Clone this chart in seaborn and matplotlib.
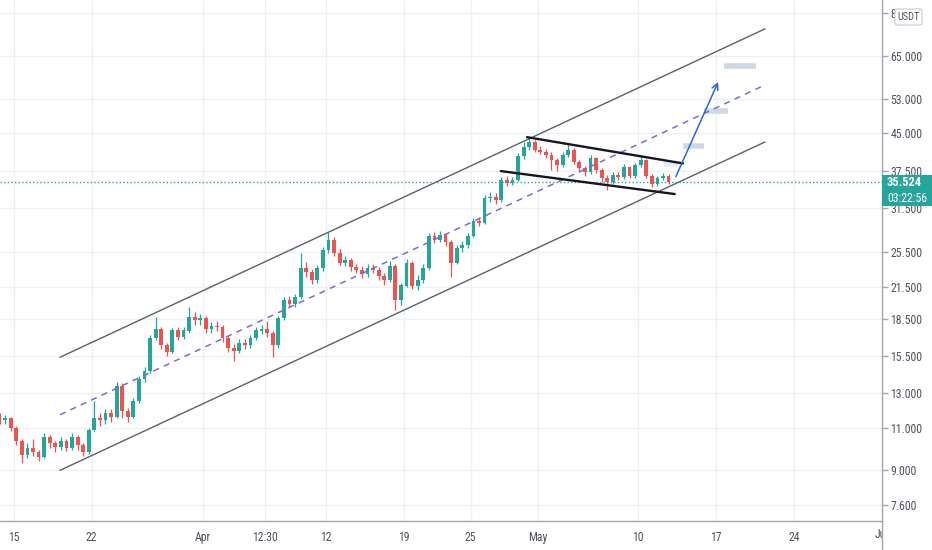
import numpy as np
import pandas as pd
import matplotlib
matplotlib.use("Agg")
import matplotlib.pyplot as plt
import seaborn as sns
from matplotlib import font_manager
from matplotlib.patches import Rectangle, FancyBboxPatch
from matplotlib.lines import Line2D
from matplotlib.ticker import FixedLocator, NullLocator
from matplotlib.transforms import blended_transform_factory

# ---------------- data ----------------
base_day = pd.Timestamp("2021-03-15")
candle_start = "2021-03-13 18:00"
first_open = 11.6

closes = [11.4, 11.5, 11.0, 10.3, 9.63, 10.0, 9.77, 9.58, 10.5, 10.2,
          10.05, 10.3, 10.0, 10.5, 10.1, 9.8, 10.9, 11.5, 11.4, 11.8,
          11.6, 13.4, 11.9, 11.6, 12.5, 13.9, 14.4, 16.9, 17.6, 16.3,
          15.8, 17.5, 17.0, 17.5, 18.7, 18.4, 18.6, 17.6, 17.9, 17.8,
          16.9, 16.1, 15.9, 16.5, 16.3, 16.9, 17.5, 17.6, 17.3, 16.3,
          18.6, 20.2, 19.9, 20.5, 23.6, 23.1, 22.3, 23.6, 25.7, 27.0,
          25.4, 24.2, 24.5, 23.7, 23.4, 22.9, 23.6, 23.4, 22.7, 22.3,
          23.8, 20.2, 21.7, 24.2, 21.7, 22.3, 23.6, 27.5, 27.0, 27.6,
          26.7, 24.2, 25.9, 26.3, 27.5, 29.6, 29.3, 32.9, 33.2, 32.6,
          35.9, 35.4, 35.9, 40.3, 42.0, 43.0, 41.5, 41.1, 40.5, 39.5,
          38.6, 40.5, 41.5, 39.1, 38.0, 37.3, 39.9, 37.7, 36.3, 35.6,
          36.8, 36.4, 38.2, 36.6, 38.6, 39.5, 36.6, 35.2, 36.3, 36.6,
          35.524]

highs = [11.8, 11.7, 11.6, 11.1, 10.4, 10.2, 10.4, 9.9, 10.7, 10.6,
         10.3, 10.5, 10.4, 10.7, 10.6, 10.2, 11.0, 12.5, 11.8, 12.0,
         12.0, 13.7, 13.6, 12.1, 12.7, 14.1, 14.7, 17.1, 18.7, 17.8,
         16.5, 17.7, 17.8, 17.8, 19.6, 19.1, 18.9, 18.8, 18.2, 18.3,
         18.0, 17.1, 16.4, 16.8, 16.8, 17.1, 17.8, 18.0, 18.3, 17.5,
         18.8, 20.5, 20.6, 20.8, 25.4, 24.3, 23.5, 23.9, 26.1, 28.0,
         27.3, 25.8, 25.0, 24.8, 24.1, 23.8, 24.1, 24.0, 23.7, 23.0,
         24.4, 24.0, 22.0, 24.6, 24.4, 22.8, 24.0, 27.9, 28.0, 28.2,
         27.8, 27.0, 26.3, 26.9, 27.9, 30.0, 30.1, 33.5, 33.9, 33.7,
         36.5, 36.6, 36.5, 40.9, 43.0, 44.1, 43.5, 42.2, 41.6, 41.0,
         40.0, 41.0, 42.7, 41.8, 39.5, 38.4, 40.4, 40.1, 38.0, 36.8,
         37.3, 37.3, 38.7, 38.5, 39.0, 40.5, 39.8, 36.9, 36.7, 37.1,
         36.9]

lows = [11.2, 11.2, 10.8, 10.1, 9.3, 9.5, 9.6, 9.4, 9.5, 10.0,
        9.8, 9.9, 9.85, 9.9, 9.9, 9.6, 9.7, 10.8, 11.1, 11.2,
        11.3, 11.5, 11.5, 11.3, 11.5, 12.4, 13.7, 14.3, 16.7, 16.0,
        15.5, 15.7, 16.7, 16.8, 17.3, 18.0, 18.0, 17.3, 17.3, 17.5,
        16.6, 15.8, 15.1, 15.7, 16.0, 16.1, 16.7, 17.2, 17.0, 15.4,
        16.1, 18.4, 19.6, 19.6, 20.3, 22.6, 21.9, 22.0, 23.3, 25.4,
        25.0, 23.9, 23.8, 23.3, 23.0, 22.5, 22.6, 23.0, 22.3, 21.8,
        22.1, 19.3, 19.8, 21.5, 21.3, 21.2, 22.0, 23.4, 26.6, 26.7,
        26.2, 22.6, 24.0, 25.5, 26.0, 27.3, 28.9, 29.1, 32.3, 32.1,
        32.4, 34.9, 35.0, 35.7, 39.8, 41.4, 41.0, 40.6, 40.0, 37.7,
        37.6, 38.2, 40.1, 38.7, 37.4, 36.6, 37.0, 37.2, 35.6, 34.2,
        35.3, 35.9, 36.1, 36.2, 36.3, 38.2, 36.2, 34.7, 34.9, 35.9,
        35.2]

last_price = 35.524
last_price_text = "35.524"
countdown_text = "03:22:56"
currency = "USDT"

# channel (day offset from Mar 15, price)
channel_x = [4.17, 67.4]
channel_upper = [15.4, 74.0]
channel_mid = [11.7, 56.6]
channel_lower = [8.97, 43.1]

# flag
flag_upper_x = [46.05, 60.04]
flag_upper_y = [44.1, 38.9]
flag_lower_x = [43.7, 59.3]
flag_lower_y = [37.5, 33.6]

# projected arrow
arrow_from = (59.4, 36.5)
arrow_to = (63.2, 57.4)

# target markers: (start day, end day, price)
target_x0 = [58.3, 60.0, 61.9, 63.7]
target_x1 = [59.5, 61.9, 64.1, 66.6]
target_y = [38.8, 42.2, 50.0, 62.0]
target_col = ["#e3ebf2", "#cdd9e5", "#cdd9e5", "#cdd9e5"]

price_ticks = [7.6, 9.0, 11.0, 13.0, 15.5, 18.5, 21.5, 25.5, 31.5, 37.5, 45.0, 53.0, 65.0, 80.0]
price_labels = ["7.600", "9.000", "11.000", "13.000", "15.500", "18.500", "21.500",
                "25.500", "31.500", "37.500", "45.000", "53.000", "65.000", "80.000"]

date_ticks = ["2021-03-15", "2021-03-22", "2021-04-01", "2021-04-06 12:30", "2021-04-12",
              "2021-04-19", "2021-04-25", "2021-05-01", "2021-05-10", "2021-05-17",
              "2021-05-24"]
date_labels = ["15", "22", "Apr", "12:30", "12", "19", "25", "May", "10", "17", "24"]
edge_tick = "2021-06-01"
edge_label = "Jun"

# ---------------- styling ----------------
sns.set_style("white")
available = {f.name for f in font_manager.fontManager.ttflist}
narrow = [f for f in ["Liberation Sans Narrow", "Roboto Condensed", "DejaVu Sans Condensed"]
          if f in available]
fam = (narrow[:1] if narrow else []) + ["DejaVu Sans"]
plt.rcParams['font.family'] = fam
lab_fs = 8.5 if narrow else 7.2

UP = "#26a69a"
DOWN = "#ef5350"
AXIS = "#a3a6af"
TXT = "#50535e"
GRID = "#eef0f4"

W, H = 932, 550
fig = plt.figure(figsize=(W / 100, H / 100), dpi=100)
fig.patch.set_facecolor("white")
ax = fig.add_axes([0, 29 / H, 882 / W, 521 / H])

dates = pd.date_range(candle_start, periods=len(closes), freq="12h")
xd = np.asarray((dates - base_day) / pd.Timedelta(days=1), dtype=float)
c = np.array(closes)
o = np.array([first_open] + closes[:-1])
hi = np.array(highs)
lo = np.array(lows)
up = c >= o
cols = np.where(up, UP, DOWN)

ax.set_yscale("log")
ax.set_xlim(-13.5 / 11.15, (882 - 13.5) / 11.15)
ax.set_ylim(7.04, 84.95)

# ticks + grid
tick_days = [(pd.Timestamp(d) - base_day) / pd.Timedelta(days=1) for d in date_ticks]
ax.xaxis.set_major_locator(FixedLocator(tick_days))
ax.set_xticklabels(date_labels)
ax.yaxis.set_major_locator(FixedLocator(price_ticks))
ax.yaxis.set_minor_locator(NullLocator())
ax.set_yticklabels(price_labels)
ax.grid(True, color=GRID, lw=1, zorder=0)
ax.set_axisbelow(True)

# candles
ax.vlines(xd, lo, hi, colors=cols, lw=0.9, zorder=2)
ax.bar(xd, np.abs(c - o) + 0.0001 * c, bottom=np.minimum(o, c), width=0.34,
       color=cols, linewidth=0, zorder=3)

# channel lines
sns.lineplot(x=channel_x, y=channel_upper, ax=ax, color="#5d606b", lw=1.0, zorder=4)
sns.lineplot(x=channel_x, y=channel_lower, ax=ax, color="#5d606b", lw=1.0, zorder=4)
ax.plot(channel_x, channel_mid, color="#7e6bd0", lw=1.1, ls=(0, (4, 3.5)), zorder=4)

# flag
sns.lineplot(x=flag_upper_x, y=flag_upper_y, ax=ax, color="#131722", lw=1.7, zorder=5)
sns.lineplot(x=flag_lower_x, y=flag_lower_y, ax=ax, color="#131722", lw=1.7, zorder=5)

# target markers
for x0, x1, yv, cc in zip(target_x0, target_x1, target_y, target_col):
    ax.hlines(yv, x0, x1, colors=cc, lw=4, zorder=3)

# arrow
ax.annotate("", xy=arrow_to, xytext=arrow_from,
            arrowprops=dict(arrowstyle="->", color="#2f64d6", lw=1.1,
                            mutation_scale=11, shrinkA=0, shrinkB=0), zorder=6)

# last price dotted line
ax.axhline(last_price, color=UP, lw=1, ls=(0, (1, 1.6)), zorder=4)

# axes styling
for s in ["left", "top"]:
    ax.spines[s].set_visible(False)
for s in ["right", "bottom"]:
    ax.spines[s].set_color(AXIS)
    ax.spines[s].set_linewidth(1)
ax.yaxis.tick_right()
ax.tick_params(axis="y", which="major", direction="out", length=4, width=1,
               color=AXIS, labelsize=lab_fs, labelcolor=TXT, pad=2)
ax.tick_params(axis="x", which="major", direction="out", length=4, width=1,
               color=AXIS, labelsize=lab_fs, labelcolor=TXT, pad=3)
ax.set_xlabel("")
ax.set_ylabel("")
if ax.get_legend():
    ax.get_legend().remove()

# month label at the right edge, partly hidden by the price scale
jun_day = (pd.Timestamp(edge_tick) - base_day) / pd.Timedelta(days=1)
trans = blended_transform_factory(ax.transData, ax.transAxes)
ax.text(jun_day, -7.5 / 521, edge_label, transform=trans, ha="center", va="top",
        fontsize=lab_fs, color=TXT, clip_on=False)
fig.add_artist(Rectangle((883 / W, 0), 49 / W, 28.5 / H, transform=fig.transFigure,
                         facecolor="white", edgecolor="none", zorder=5))
fig.add_artist(Line2D([882 / W, 882 / W], [0, 29 / H], transform=fig.transFigure,
                      color=AXIS, lw=1, zorder=6))

# last price label
fig.add_artist(Rectangle((882 / W, 1 - 206 / H), 50 / W, 31 / H, transform=fig.transFigure,
                         facecolor=UP, edgecolor="none", zorder=10))
fig.text(887 / W, 1 - 183 / H, last_price_text, color="white", fontsize=lab_fs + 0.5,
         fontweight="bold", ha="left", va="center", zorder=11)
fig.text(887 / W, 1 - 198 / H, countdown_text, color="white", fontsize=lab_fs,
         ha="left", va="center", zorder=11)

# currency box
fig.add_artist(FancyBboxPatch((895 / W, 1 - 25 / H), 27 / W, 16 / H,
                              boxstyle="round,pad=0,rounding_size=0.003",
                              transform=fig.transFigure, facecolor="white",
                              edgecolor="#d1d4dc", lw=1, zorder=10))
fig.text(908.5 / W, 1 - 17 / H, currency, color=TXT, fontsize=lab_fs - 1,
         ha="center", va="center", zorder=11)

fig.savefig("out.png", dpi=100, facecolor="white")
